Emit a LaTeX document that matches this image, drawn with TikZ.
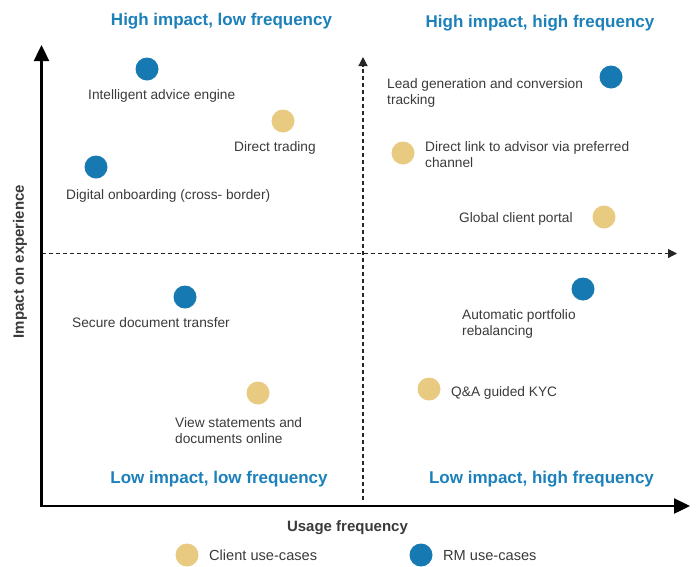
\documentclass[tikz,border=0pt]{standalone}
\usepackage{fontspec}
\setmainfont{Liberation Sans}
\usetikzlibrary{arrows.meta}
\definecolor{rmblue}{HTML}{1779B1}
\definecolor{clientsand}{HTML}{E8CB80}
\definecolor{quadblue}{HTML}{1C80BA}
\definecolor{labelgray}{HTML}{3A3A3A}
\begin{document}
\begin{tikzpicture}[x=1pt,y=-1pt,
                    axis/.style={line width=2.4pt,line cap=rect,
                                 -{Triangle[length=16pt,width=15pt]}},
                    split/.style={line width=1.2pt,black!85,
                                  dash pattern=on 4pt off 3pt,
                                  -{Triangle[length=9pt,width=9pt]}},
                    rm/.style={circle,fill=rmblue,inner sep=0pt,
                               minimum size=23pt},
                    client/.style={rm,fill=clientsand},
                    usecase/.style={anchor=base west,align=left,inner sep=0pt,
                                    text=labelgray,
                                    font=\fontsize{13.7}{16}\selectfont},
                    quadrant/.style={anchor=base,inner sep=0pt,text=quadblue,
                                     font=\fontsize{17}{20}\selectfont\bfseries},
                    axislabel/.style={inner sep=0pt,text=labelgray,
                                      font=\fontsize{15}{18}\selectfont\bfseries}]
  \useasboundingbox (0,0) rectangle (699,566);

  % axes and quadrant split
  \coordinate (origin) at ( 41.5,506);
  \coordinate (ytip)   at ( 41.5, 45);
  \coordinate (xtip)   at (690  ,506);
  \coordinate (vfoot)  at (363  ,500);
  \coordinate (vtip)   at (363  , 57);
  \coordinate (hfoot)  at ( 41.5,253.5);
  \coordinate (htip)   at (677  ,253.5);

  \path (vfoot)  edge [split] (vtip)
        (hfoot)  edge [split] (htip)
        (origin) edge [axis]  (ytip)
                 edge [axis]  (xtip);

  \node (impact) [axislabel,rotate=90] at ( 20  ,261.5) {Impact on experience};
  \node (usage)  [axislabel,anchor=base] at (347.5,531.5) {Usage frequency};

  % quadrant titles
  \node (highlow)  [quadrant] at (221.5, 25  ) {High impact, low frequency};
  \node (highhigh) [quadrant] at (540  , 27.5) {High impact, high frequency};
  \node (lowlow)   [quadrant] at (219  ,483  ) {Low impact, low frequency};
  \node (lowhigh)  [quadrant] at (541.5,483  ) {Low impact, high frequency};

  % high impact, low frequency
  \node (advice)     [rm]     at (147, 69) {};
  \node (trading)    [client] at (283,121) {};
  \node (onboarding) [rm]     at ( 96,167) {};
  \node (advicetxt)     [usecase] at ( 88, 99  ) {Intelligent advice engine};
  \node (tradingtxt)    [usecase] at (234,151.5) {Direct trading};
  \node (onboardingtxt) [usecase] at ( 66,199  ) {Digital onboarding (cross- border)};

  % high impact, high frequency (two-line labels sit on their last line)
  \node (leads)  [rm]     at (611, 77) {};
  \node (link)   [client] at (403,153) {};
  \node (portal) [client] at (604,217) {};
  \node (leadstxt)  [usecase] at (387,104.5) {Lead generation and conversion\\tracking};
  \node (linktxt)   [usecase] at (425,167  ) {Direct link to advisor via preferred\\channel};
  \node (portaltxt) [usecase] at (459,222  ) {Global client portal};

  % low impact, low frequency
  \node (transfer)   [rm]     at (185,297) {};
  \node (statements) [client] at (258,393) {};
  \node (transfertxt)   [usecase] at ( 72,327) {Secure document transfer};
  \node (statementstxt) [usecase] at (175,443) {View statements and\\documents online};

  % low impact, high frequency
  \node (rebalance) [rm]     at (583,289) {};
  \node (kyc)       [client] at (429,389) {};
  \node (rebalancetxt) [usecase] at (462,335) {Automatic portfolio\\rebalancing};
  \node (kyctxt)       [usecase] at (451,396) {Q\&A guided KYC};

  % legend
  \node (clientkey) [client] at (187,555) {};
  \node (rmkey)     [rm]     at (421,555) {};
  \node (clientkeytxt) [usecase,font=\fontsize{14.6}{17}\selectfont]
        at (209,560.5) {Client use-cases};
  \node (rmkeytxt)     [usecase,font=\fontsize{14.6}{17}\selectfont]
        at (443,560.5) {RM use-cases};
\end{tikzpicture}
\end{document}
